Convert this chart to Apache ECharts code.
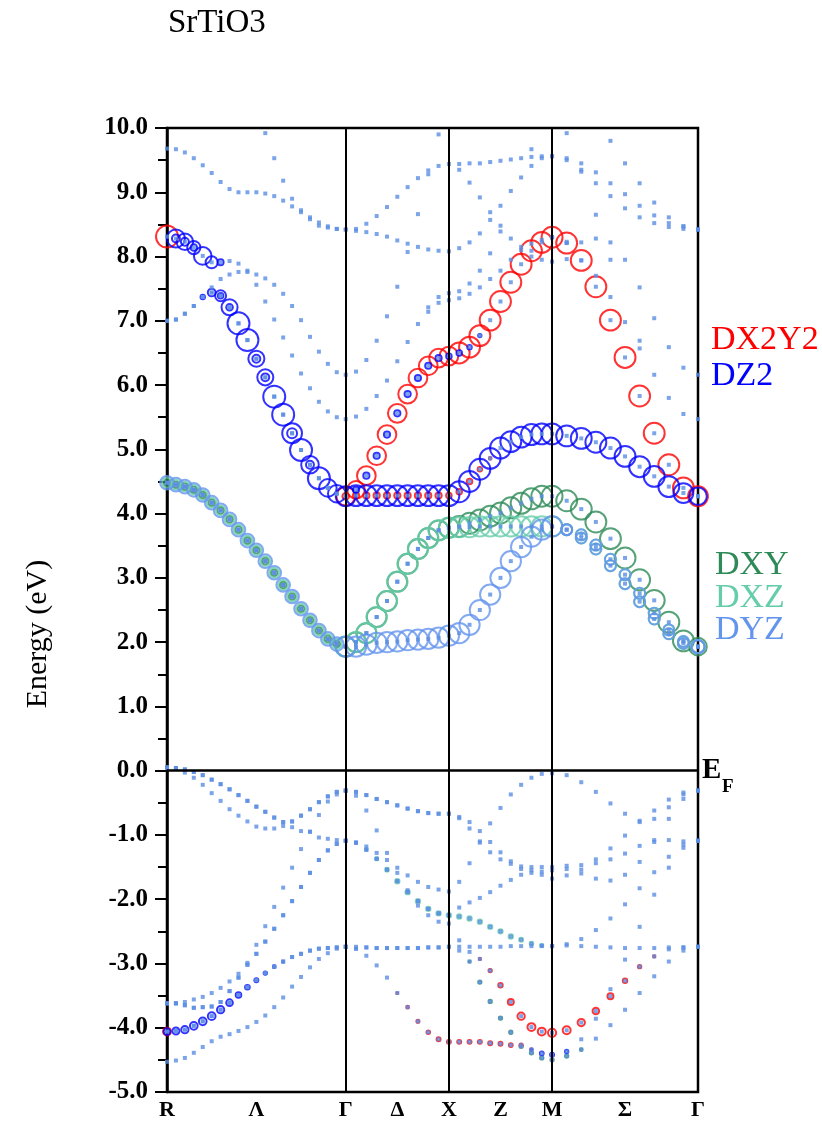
<!DOCTYPE html>
<html>
<head>
<meta charset="utf-8">
<script src="https://cdn.jsdelivr.net/npm/echarts@6/dist/echarts.min.js"></script>
<style>
  html, body { margin: 0; padding: 0; background: #fff; }
  #chart { width: 822px; height: 1121px; }
</style>
</head>
<body>
<div id="chart"></div>
<script>
// ---------------------------------------------------------------------------
// SrTiO3 fat-band structure along R–Λ–Γ–Δ–X–Z–M–Σ–Γ (energies in eV, E_F = 0)
// ---------------------------------------------------------------------------

// k-path: segment lengths in units of 2π/a and number of sampling steps
const segmentLengths = [Math.sqrt(3), 1, 1, Math.SQRT2];
const segmentSteps = [20, 10, 10, 10];
const pathLabels = ['R', 'Λ', 'Γ', 'Δ', 'X', 'Z', 'M', 'Σ', 'Γ'];

// ---- conduction bands: Ti t2g manifold (R–Γ part is shared) --------------
const t2gLambda = [4.48, 4.45, 4.42, 4.37, 4.29, 4.17, 4.05, 3.91, 3.75, 3.58, 3.43,
                   3.26, 3.08, 2.89, 2.71, 2.52, 2.34, 2.18, 2.05, 1.97, 1.93];
const t2gA = [...t2gLambda,
  1.93, 1.96, 1.99, 2.00, 2.01, 2.03, 2.04, 2.05, 2.07, 2.10,
  2.14, 2.27, 2.50, 2.74, 3.00, 3.26, 3.48, 3.64, 3.75, 3.80,
  3.75, 3.67, 3.51, 3.29, 3.05, 2.76, 2.45, 2.19, 2.01, 1.93];
const t2gB = [...t2gLambda,
  2.00, 2.14, 2.39, 2.64, 2.94, 3.22, 3.45, 3.62, 3.74, 3.78,
  3.79, 3.79, 3.80, 3.80, 3.80, 3.80, 3.80, 3.80, 3.80, 3.80,
  3.75, 3.62, 3.45, 3.19, 2.91, 2.63, 2.36, 2.13, 1.98, 1.93];
const t2gC = [...t2gLambda,
  2.00, 2.14, 2.39, 2.64, 2.94, 3.22, 3.45, 3.62, 3.74, 3.78,
  3.80, 3.85, 3.90, 3.96, 4.01, 4.09, 4.16, 4.23, 4.27, 4.27,
  4.20, 4.07, 3.87, 3.61, 3.31, 2.97, 2.65, 2.31, 2.02, 1.93];

// ---- conduction bands: Ti eg pair ------------------------------------------
const egLambda = [7.00, 7.02, 7.11, 7.23, 7.37, 7.44, 7.39, 7.21, 6.96, 6.70, 6.41,
                  6.12, 5.82, 5.54, 5.25, 4.99, 4.76, 4.55, 4.40, 4.31, 4.27];
const egA = [...egLambda,
  4.28, 4.28, 4.28, 4.28, 4.28, 4.28, 4.28, 4.28, 4.28, 4.28,
  4.34, 4.50, 4.69, 4.86, 5.02, 5.12, 5.19, 5.23, 5.24, 5.24,
  5.21, 5.17, 5.11, 5.02, 4.89, 4.73, 4.58, 4.42, 4.32, 4.27];
const egB = [...egLambda,
  4.37, 4.59, 4.90, 5.23, 5.56, 5.86, 6.11, 6.30, 6.42, 6.45,
  6.50, 6.59, 6.77, 7.01, 7.30, 7.60, 7.88, 8.09, 8.22, 8.30,
  8.21, 7.94, 7.53, 7.01, 6.43, 5.83, 5.25, 4.76, 4.40, 4.27];

// ---- higher conduction bands ----------------------------------------------
const c1 = [8.31, 8.28, 8.23, 8.14, 8.01, 7.91, 7.91, 7.93, 7.89, 7.78, 7.56,
            7.30, 7.02, 6.74, 6.46, 6.18, 5.95, 5.74, 5.59, 5.50, 5.47,
  5.51, 5.63, 5.83, 6.07, 6.37, 6.67, 6.95, 7.21, 7.37, 7.43,
  7.46, 7.58, 7.78, 8.05, 8.39, null, null, null, null, null,
  null, null, null, null, null, null, null, null, null, null];
const c2 = [null, null, null, null, null, 7.52, 7.65, 7.72, 7.76, 7.76, 7.72,
            7.66, 7.56, 7.42, 7.23, 7.01, 6.75, 6.52, 6.33, 6.20, 6.16,
  6.21, 6.39, 6.69, 7.07, 7.53, 8.07, 8.66, 9.28, 9.90, null,
  null, null, null, null, null, null, null, null, null, 8.30,
  8.23, 8.22, 8.28, 8.22, 7.95, 7.52, 7.04, 6.59, 6.27, 6.16];
const c3 = [9.68, 9.67, 9.62, 9.53, 9.42, 9.30, 9.16, 9.05, 9.00, 9.00, 9.00,
            8.98, 8.94, 8.87, 8.78, 8.69, 8.61, 8.53, 8.47, 8.43, 8.42,
  8.43, 8.51, 8.63, 8.77, 8.93, 9.08, 9.22, 9.34, 9.41, 9.44,
  9.44, 9.45, 9.45, 9.47, 9.49, 9.51, 9.53, 9.55, 9.56, 9.56,
  9.50, 9.35, 9.14, 8.94, 8.75, 8.61, 8.52, 8.46, 8.43, 8.42];
const c4 = [null, null, null, null, null, null, null, null, null, null, null,
            9.92, 9.53, 9.18, 8.90, 8.72, 8.58, 8.48, 8.45, 8.43, 8.42,
  8.40, 8.38, 8.35, 8.31, 8.25, 8.20, 8.15, 8.11, 8.09, 8.08,
  8.13, 8.22, 8.36, 8.57, 8.79, 9.02, 9.23, 9.41, 9.53, 9.56,
  9.53, 9.45, 9.31, 9.14, 8.97, 8.79, 8.64, 8.52, 8.47, 8.42];
const c5 = [null, null, null, null, null, null, null, null, null, null, null,
            null, null, null, null, null, null, null, null, null, null,
  null, null, null, null, null, null, null, 7.14, 7.28, 7.32,
  7.35, 7.42, 7.52, 7.65, 7.78, 7.95, 8.10, 8.20, 8.26, 8.30,
  null, null, null, null, null, null, null, null, null, null];
const c6 = [null, null, null, null, null, null, null, null, null, null, null,
            null, null, null, null, null, null, null, null, null, null,
  null, null, null, null, null, null, null, null, null, null,
  9.35, 9.15, 8.92, 8.69, 8.48, 8.28, 8.15, 8.00, 7.95, 7.92,
  7.96, 7.94, 7.70, 7.37, 6.98, 6.57, 6.16, 5.80, 5.55, 5.47];
const c7 = [null, null, null, null, null, null, null, null, null, null, null,
            null, null, null, null, null, null, null, null, null, null,
  null, null, null, null, null, null, null, null, null, null,
  null, null, null, null, null, null, null, null, null, null,
  null, null, null, 9.80, 9.45, 9.14, 8.84, 8.61, 8.47, 8.42];
// isolated levels: [k-point index, energy]
const looseLevels = [[38, 9.67], [41, 9.92], [41, 8.21], [42, 9.32], [43, 8.65], [44, 7.95], [46, 6.69]];

// ---- O 2p valence bands ----------------------------------------------------
const vTopLambda = [0.05, 0.04, 0.02, -0.02, -0.07, -0.14, -0.21, -0.29, -0.38, -0.47, -0.56,
                    -0.64, -0.73, -0.80, -0.79, -0.70, -0.60, -0.49, -0.40, -0.33, -0.31];
const vTopDelta = [-0.33, -0.38, -0.44, -0.49, -0.54, -0.59, -0.63, -0.66, -0.67, -0.67];
const vMidLambda = [-3.62, -3.62, -3.65, -3.69, -3.68, -3.67, -3.60, -3.43, -3.22, -3.02, -2.85,
                    -2.66, -2.46, -2.25, -2.03, -1.81, -1.59, -1.39, -1.24, -1.14, -1.09];
const vMidDelta = [-1.12, -1.23, -1.37, -1.54, -1.72, -1.89, -2.03, -2.15, -2.22, -2.25];
const vLowLambda = [-4.06, -4.05, -4.03, -3.97, -3.90, -3.82, -3.72, -3.61, -3.49, -3.37, -3.26,
                    -3.15, -3.05, -2.97, -2.90, -2.85, -2.80, -2.77, -2.76, -2.75, -2.74];

const v1 = [...vTopLambda, ...vTopDelta,
  -0.72, -0.80, -0.94, -1.11, -1.27, -1.41, -1.49, -1.50, -1.50, -1.50,
  -1.53, -1.54, -1.44, -1.38, -1.29, -1.17, -1.08, -1.08, -1.10, -1.09];
const v2 = [-3.62, -3.62, -3.60, -3.56, -3.52, -3.46, -3.38, -3.28, -3.16, -2.99, -2.71,
            -2.42, -2.12, -1.82, -1.51, -1.22, -0.95, -0.69, -0.48, -0.37, -0.31,
  -0.39, -0.62, -0.93, -1.28, -1.51, -1.63, -1.73, -1.81, -1.85, -1.88,
  -1.73, -1.44, -1.10, -0.82, -0.58, -0.37, -0.22, -0.11, -0.05, -0.04,
  -0.07, -0.18, -0.33, -0.51, -0.67, -0.78, -0.75, -0.57, -0.37, -0.31];
const v3 = [0.05, 0.04, -0.03, -0.11, -0.22, -0.35, -0.47, -0.60, -0.70, -0.79, -0.87,
            -0.90, -0.90, -0.86, -0.88, -0.94, -0.95, -1.04, -1.06, -1.08, -1.09,
  -1.12, -1.18, -1.28, -1.39, -1.59, -1.86, -2.10, -2.25, -2.35, -2.38,
  -2.64, -2.82, -2.93, -3.11, -3.34, -3.60, -3.82, -3.99, -4.06, -4.08,
  -4.04, -3.92, -3.74, -3.51, -3.27, -3.05, -2.89, -2.78, -2.75, -2.74];
const v4 = [...vMidLambda, ...vMidDelta,
  -2.27, -2.30, -2.35, -2.43, -2.50, -2.58, -2.63, -2.69, -2.72, -2.73,
  -2.70, -2.62, -2.48, -2.30, -2.08, -1.83, -1.58, -1.34, -1.15, -1.09];
const v5 = [...vLowLambda,
  -2.74, -2.75, -2.76, -2.76, -2.76, -2.76, -2.76, -2.75, -2.75, -2.74,
  -2.74, -2.74, -2.74, -2.74, -2.74, -2.73, -2.73, -2.73, -2.73, -2.73,
  -2.72, -2.73, -2.74, -2.75, -2.76, -2.76, -2.76, -2.75, -2.75, -2.74];
const v6 = [-4.53, -4.51, -4.47, -4.39, -4.30, -4.21, -4.14, -4.10, -4.05, -3.99, -3.91,
            -3.81, -3.68, -3.53, -3.36, -3.21, -3.06, -2.93, -2.84, -2.77, -2.74,
  -2.77, -2.88, -3.03, -3.22, -3.46, -3.68, -3.90, -4.07, -4.18, -4.22,
  -4.22, -4.22, -4.22, -4.24, -4.25, -4.27, -4.27, -4.34, -4.40, -4.42,
  -4.37, -4.18, -3.86, -3.40, -2.94, -2.43, -1.93, -1.51, -1.20, -1.09];
const v7 = [...vTopLambda, ...vTopDelta,
  -0.74, -0.90, -1.12, -1.27, -1.38, -1.45, -1.53, -1.55, -1.62, -1.68,
  -1.63, -1.60, -1.68, -1.71, -1.62, -1.42, -1.11, -0.75, -0.44, -0.31];
const v8 = [...vMidLambda, ...vMidDelta,
  -2.13, -2.05, -1.98, -1.89, -1.79, -1.70, -1.62, -1.59, -1.57, -1.55,
  -1.48, -1.47, -1.38, -1.21, -1.01, -0.80, -0.62, -0.45, -0.34, -0.31];
const v9 = [...vLowLambda,
  -2.77, -2.75, -2.76, -2.76, -2.76, -2.76, -2.76, -2.75, -2.75, -2.74,
  -2.80, -2.97, -3.29, -3.59, -3.85, -4.07, -4.29, -4.39, -4.47, -4.50,
  -4.44, -4.34, -4.17, -3.96, -3.72, -3.46, -3.20, -2.97, -2.80, -2.74];

const allBands = [t2gA, t2gB, t2gC, egA, egB, c1, c2, c3, c4, c5, c6, c7,
                  v1, v2, v3, v4, v5, v6, v7, v8, v9];

// ---- orbital weights (fraction of d character) -----------------------------
const wT2gA_DXY = [.3, .3, .3, .3, .3, .3, .3, .3, .3, .3, .3, .3, .3, .3, .3, .3, .3, .3, .3, .3, 0,
  0, 0, 0, 0, 0, 0, 0, 0, 0, 0,  0, 0, 0, 0, 0, 0, 0, 0, 0, 0,  0, 0, 0, 0, 0, 0, 0, 0, 0, 0];
const wT2gA_DXZ = [0, 0, 0, 0, 0, 0, 0, 0, 0, 0, 0, 0, 0, 0, 0, 0, 0, 0, 0, 0, 0,
  0, 0, 0, 0, 0, 0, 0, 0, 0, 0,  0, 0, 0, 0, 0, 0, 0, 0, 0, 0,  .5, .5, .5, .5, .5, .5, .5, .5, .5, .6];
const wT2gA_DYZ = [0, 0, 0, 0, 0, 0, 0, 0, 0, 0, 0, 0, 0, 0, 0, 0, 0, 0, 0, 0, .92,
  .92, .92, .92, .92, .92, .92, .92, .92, .92, .92,  .92, .92, .92, .92, .92, .92, .92, .92, .92, .92,
  .5, .5, .5, .5, .5, .5, .5, .5, .5, .6];
const wT2gB_DXZ = [0, 0, 0, 0, 0, 0, 0, 0, 0, 0, 0, 0, 0, 0, 0, 0, 0, 0, 0, 0, .92,
  .92, .92, .92, .92, .92, .92, .92, .92, .92, .92,  .92, .92, .92, .92, .92, .92, .92, .92, .92, .92,
  .5, .5, .5, .5, .5, .5, .5, .5, .5, .6];
const wT2gB_DYZ = [.62, .62, .62, .62, .62, .62, .62, .62, .62, .62, .62, .62, .62, .62, .62, .62, .62, .62, .62, .62, 0,
  0, 0, 0, 0, 0, 0, 0, 0, 0, 0,  0, 0, 0, 0, 0, 0, 0, 0, 0, 0,  .5, .5, .5, .5, .5, .5, .5, .5, .5, .6];
const wT2gC_DXY = [0, 0, 0, 0, 0, 0, 0, 0, 0, 0, 0, 0, 0, 0, 0, 0, 0, 0, 0, 0, .9,
  .9, .9, .9, .9, .9, .9, .9, .9, .9, .9,  .95, .95, .95, .95, .95, .95, .95, .95, .95, .95,
  .95, .95, .95, .95, .95, .95, .95, .95, .95, .8];
const wT2gC_DXZ = [.45, .45, .45, .45, .45, .45, .45, .45, .45, .45, .45, .45, .45, .45, .45, .45, .45, .45, .45, .45, 0,
  0, 0, 0, 0, 0, 0, 0, 0, 0, 0,  0, 0, 0, 0, 0, 0, 0, 0, 0, 0,  0, 0, 0, 0, 0, 0, 0, 0, 0, 0];

const wEgA_DZ2 = [0, 0, 0, 0, .2, .35, .5, .73, 1, 1, .73, .73, 1, 1, .9, 1, .8, 1, .8, .8, .9,
  .95, .95, .95, .95, .95, .95, .95, .95, .95, .95,  .95, .95, .95, .95, .95, .95, .95, .95, .95, .95,
  .95, .95, .95, .95, .95, .95, .95, .95, .9, .8];
const wEgB_DZ2 = [0, 0, 0, 0, 0, 0, .25, .3, 0, 0, .36, .36, 0, 0, .45, 0, .36, 0, 0, 0, 0,
  .28, .28, .28, .28, .28, .28, .28, .28, .28, .25,  .25, .2, .15, 0, 0, 0, 0, 0, 0, 0,
  0, 0, 0, 0, 0, 0, 0, 0, 0, 0];
const wEgA_DX2Y2 = [0, 0, 0, 0, 0, 0, 0, 0, 0, 0, 0, 0, 0, 0, 0, 0, 0, 0, 0, 0, .3,
  .28, .28, .28, .28, .28, .28, .28, .28, .28, .25,  .25, .25, .2, .12, 0, 0, 0, 0, 0, 0,
  0, 0, 0, 0, 0, 0, 0, 0, 0, 0];
const wEgB_DX2Y2 = [0, 0, 0, 0, 0, 0, 0, 0, 0, 0, 0, 0, 0, 0, 0, 0, 0, 0, 0, 0, .85,
  .8, .85, .85, .85, .85, .85, .85, .85, .85, .85,  .95, .95, .95, .95, .95, .95, .95, .95, .95, .95,
  .95, .95, .95, .95, .95, .95, .95, .95, .95, .9];
const wC1_DZ2 = [0, .82, .75, .6, .8, .55, .27, 0, 0, 0, 0, 0, 0, 0, 0, 0, 0, 0, 0, 0, 0,
  0, 0, 0, 0, 0, 0, 0, 0, 0, 0,  0, 0, 0, 0, 0, 0, 0, 0, 0, 0,  0, 0, 0, 0, 0, 0, 0, 0, 0, 0];
const wC1_DZ2inner = [0, .36, .36, .3, 0, 0, 0, 0, 0, 0, 0, 0, 0, 0, 0, 0, 0, 0, 0, 0, 0,
  0, 0, 0, 0, 0, 0, 0, 0, 0, 0,  0, 0, 0, 0, 0, 0, 0, 0, 0, 0,  0, 0, 0, 0, 0, 0, 0, 0, 0, 0];
const wC1_DX2Y2 = [1, 0, 0, 0, 0, 0, 0, 0, 0, 0, 0, 0, 0, 0, 0, 0, 0, 0, 0, 0, 0,
  0, 0, 0, 0, 0, 0, 0, 0, 0, 0,  0, 0, 0, 0, 0, 0, 0, 0, 0, 0,  0, 0, 0, 0, 0, 0, 0, 0, 0, 0];

const wV5_DZ2 = [.3, .32, .33, .35, .35, .35, .33, .3, .25, .21, .18, .15, .12, .08, 0, 0, 0, 0, 0, 0, 0,
  0, 0, 0, 0, 0, 0, 0, 0, 0, 0,  0, 0, 0, 0, 0, 0, 0, 0, 0, 0,  0, 0, 0, 0, 0, 0, 0, 0, 0, 0];
const wV5_DX2Y2 = [.36, 0, 0, 0, 0, 0, 0, 0, 0, 0, 0, 0, 0, 0, 0, 0, 0, 0, 0, 0, 0,
  0, 0, 0, 0, 0, 0, 0, 0, 0, 0,  0, 0, 0, 0, 0, 0, 0, 0, 0, 0,  0, 0, 0, 0, 0, 0, 0, 0, 0, 0];
const wV3_DX2Y2 = [0, 0, 0, 0, 0, 0, 0, 0, 0, 0, 0, 0, 0, 0, 0, 0, 0, 0, 0, 0, 0,
  0, 0, 0, 0, 0, 0, 0, 0, 0, 0,  0, 0, .1, .15, .2, .27, .33, .36, .36, .37,
  .36, .33, .3, .27, .2, .15, .1, 0, 0, 0];
const wV6_DX2Y2 = [0, 0, 0, 0, 0, 0, 0, 0, 0, 0, 0, 0, 0, 0, 0, 0, 0, 0, 0, 0, 0,
  0, 0, 0, 0, .08, .12, .14, .16, .18, .18,  .18, .18, .18, .18, .18, .17, .15, .1, 0, 0,
  0, 0, 0, 0, 0, 0, 0, 0, 0, 0];
const wV6_DZ2 = [0, 0, 0, 0, 0, 0, 0, 0, 0, 0, 0, 0, 0, 0, 0, 0, 0, 0, 0, 0, 0,
  0, 0, 0, 0, 0, 0, 0, 0, 0, 0,  0, 0, 0, 0, 0, 0, 0, .1, .17, .18,
  .15, 0, 0, 0, 0, 0, 0, 0, 0, 0];
const wV4_DXZ = [0, 0, 0, 0, 0, 0, 0, 0, 0, 0, 0, 0, 0, 0, 0, 0, 0, 0, 0, 0, 0,
  0, .1, .14, .17, .2, .2, .2, .2, .2, .2,  .2, .2, .2, .2, .2, .2, .18, .16, .14, .12,
  0, 0, 0, 0, 0, 0, 0, 0, 0, 0];
const wV9_DXY = [0, 0, 0, 0, 0, 0, 0, 0, 0, 0, 0, 0, 0, 0, 0, 0, 0, 0, 0, 0, 0,
  0, 0, 0, 0, 0, 0, 0, 0, 0, 0,  0, .1, .15, .15, .15, .15, .15, .15, .15, .15,
  .15, .12, 0, 0, 0, 0, 0, 0, 0, 0];

// orbital -> list of [band, weights]; drawing order follows this list
const orbitals = [
  { name: 'DXY',   color: '#2e8b57', parts: [[t2gA, wT2gA_DXY], [t2gC, wT2gC_DXY], [v9, wV9_DXY]] },
  { name: 'DXZ',   color: '#66cdaa', parts: [[t2gA, wT2gA_DXZ], [t2gB, wT2gB_DXZ], [t2gC, wT2gC_DXZ], [v4, wV4_DXZ]] },
  { name: 'DYZ',   color: '#6495ed', parts: [[t2gA, wT2gA_DYZ], [t2gB, wT2gB_DYZ]] },
  { name: 'DX2Y2', color: '#ff0000', parts: [[egA, wEgA_DX2Y2], [egB, wEgB_DX2Y2], [c1, wC1_DX2Y2],
                                             [v5, wV5_DX2Y2], [v3, wV3_DX2Y2], [v6, wV6_DX2Y2]] },
  { name: 'DZ2',   color: '#0000ff', parts: [[egA, wEgA_DZ2], [egB, wEgB_DZ2], [c1, wC1_DZ2], [c1, wC1_DZ2inner],
                                             [v5, wV5_DZ2], [v6, wV6_DZ2]] }
];

// ---------------------------------------------------------------------------
const kPoints = [0];
let kStart = 0;
segmentLengths.forEach((len, s) => {
  for (let j = 1; j <= segmentSteps[s]; j++) kPoints.push(kStart + len * j / segmentSteps[s]);
  kStart += len;
});
const kEnd = kStart;
const kSym = [0];
segmentLengths.reduce((acc, len) => { kSym.push(acc + len); return acc + len; }, 0);
const labelValues = [kSym[0], (kSym[0] + kSym[1]) / 2, kSym[1], (kSym[1] + kSym[2]) / 2, kSym[2],
                     (kSym[2] + kSym[3]) / 2, kSym[3], (kSym[3] + kSym[4]) / 2, kSym[4]];

const serif = '"Liberation Serif", "DejaVu Serif", serif';
const circleScale = 22;

const circleSeries = orbitals.map(o => {
  const data = [];
  o.parts.forEach(([band, w]) => {
    band.forEach((e, i) => {
      if (e !== null && w[i] >= 0.08) data.push([kPoints[i], e, w[i]]);
    });
  });
  return {
    name: o.name, type: 'scatter', data, clip: false, silent: true,
    symbol: 'circle',
    symbolSize: v => v[2] * circleScale,
    itemStyle: { color: 'rgba(0,0,0,0)', borderColor: o.color, borderWidth: 2 },
    z: 3
  };
});

const dotData = [];
allBands.forEach(band => band.forEach((e, i) => { if (e !== null) dotData.push([kPoints[i], e]); }));
looseLevels.forEach(([i, e]) => dotData.push([kPoints[i], e]));

const dotSeries = {
  name: 'bands', type: 'scatter', data: dotData, clip: false, silent: true,
  symbol: 'rect', symbolSize: 4,
  itemStyle: { color: '#5b8fe3' },
  z: 4,
  markLine: {
    silent: true, symbol: ['none', 'none'], label: { show: false }, animation: false,
    lineStyle: { color: '#000', width: 2, type: 'solid' },
    data: [
      { xAxis: kSym[1] }, { xAxis: kSym[2] }, { xAxis: kSym[3] },
      { yAxis: 0, lineStyle: { color: '#000', width: 2.5, type: 'solid' } }
    ]
  }
};

const textMid = { verticalAlign: 'middle', textVerticalAlign: 'middle' };

const chart = echarts.init(document.getElementById('chart'));
chart.setOption({
  animation: false,
  backgroundColor: '#fff',
  grid: { left: 167, right: 124, top: 128, bottom: 29, show: true,
          borderColor: '#000', borderWidth: 2.5, backgroundColor: 'rgba(0,0,0,0)' },
  xAxis: {
    type: 'value', min: 0, max: kEnd,
    axisLine: { show: false }, axisTick: { show: false }, splitLine: { show: false },
    axisLabel: {
      customValues: labelValues,
      formatter: v => pathLabels[labelValues.findIndex(p => Math.abs(p - v) < 1e-6)],
      margin: 7, color: '#000', fontFamily: serif, fontSize: 22, fontWeight: 'bold'
    }
  },
  yAxis: {
    type: 'value', min: -5, max: 10, interval: 1,
    axisLine: { show: true, lineStyle: { color: '#000', width: 2.5 } },
    axisTick: { show: true, length: 12, lineStyle: { color: '#000', width: 2 } },
    minorTick: { show: true, splitNumber: 2, length: 9, lineStyle: { color: '#000', width: 2 } },
    splitLine: { show: false },
    axisLabel: { formatter: v => v.toFixed(1), margin: 19, color: '#000',
                 fontFamily: serif, fontSize: 25, fontWeight: 'bold' }
  },
  graphic: [
    { type: 'text', x: 168, y: 23,
      style: Object.assign({ text: 'SrTiO3', font: '33px ' + serif, fill: '#000' }, textMid) },
    { type: 'text', x: 38, y: 634, rotation: Math.PI / 2,
      style: { text: 'Energy (eV)', font: '30px ' + serif, fill: '#000',
               align: 'center', verticalAlign: 'middle', textAlign: 'center', textVerticalAlign: 'middle' } },
    { type: 'text', x: 711, y: 340,
      style: Object.assign({ text: 'DX2Y2', font: '34px ' + serif, fill: '#ff0000' }, textMid) },
    { type: 'text', x: 711, y: 376,
      style: Object.assign({ text: 'DZ2', font: '34px ' + serif, fill: '#0000ff' }, textMid) },
    { type: 'text', x: 715, y: 565,
      style: Object.assign({ text: 'DXY', font: '34px ' + serif, fill: '#2e8b57' }, textMid) },
    { type: 'text', x: 715, y: 598,
      style: Object.assign({ text: 'DXZ', font: '34px ' + serif, fill: '#66cdaa' }, textMid) },
    { type: 'text', x: 715, y: 630,
      style: Object.assign({ text: 'DYZ', font: '34px ' + serif, fill: '#6495ed' }, textMid) },
    { type: 'text', x: 702, y: 771,
      style: Object.assign({ text: 'E', font: 'bold 29px ' + serif, fill: '#000' }, textMid) },
    { type: 'text', x: 722, y: 787,
      style: Object.assign({ text: 'F', font: 'bold 19px ' + serif, fill: '#000' }, textMid) }
  ],
  series: [...circleSeries, dotSeries]
});
</script>
</body>
</html>
